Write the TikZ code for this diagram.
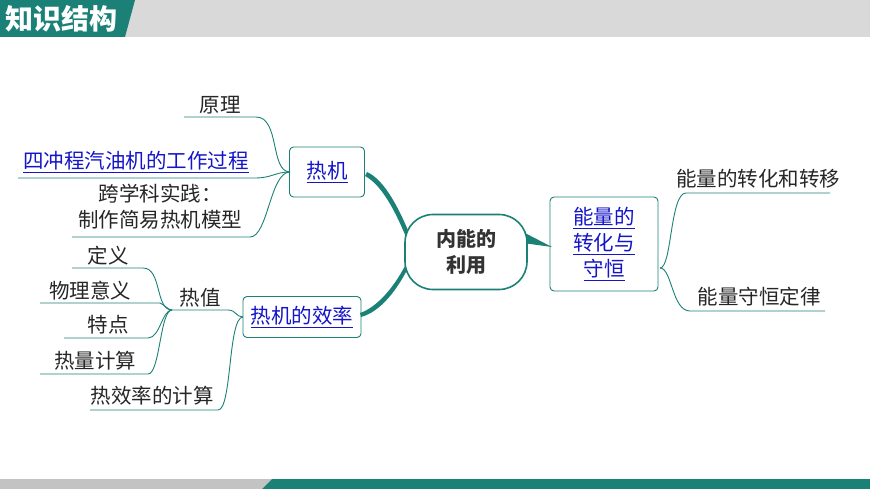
\documentclass[tikz,border=0pt]{standalone}
\usepackage{fontspec}
\setmainfont{Noto Sans CJK SC}
\usetikzlibrary{positioning}
\definecolor{teal1}{RGB}{27,128,118}
\definecolor{link}{RGB}{20,20,200}
\definecolor{gbar}{RGB}{217,217,217}
\begin{document}
\begin{tikzpicture}[x=1pt,y=-1pt,
  leaf/.style={font=\fontsize{20.5}{24}\selectfont, text=black!85, inner sep=1pt},
  ul/.style={teal1, line width=0.9pt},
  box/.style={draw=teal1, rounded corners=4pt, line width=0.9pt, fill=white},
  lk/.style={font=\fontsize{20.5}{24}\selectfont, text=link, align=center},
  fat/.style={teal1, line width=4pt, line cap=round}]
\useasboundingbox (0,0) rectangle (870,489);
% header
\fill[gbar] (128,0) -- (870,0) -- (870,37) -- (120,37) -- cycle;
\fill[teal1] (0,0) -- (135,0) -- (125,37) -- (0,37) -- cycle;
\node[font=\bfseries\fontsize{28}{30}\selectfont, text=white, anchor=west] (title) at (2,19) {知识结构};
% footer
\fill[gbar!90!black] (0,479) -- (272,479) -- (262,489) -- (0,489) -- cycle;
\fill[teal1] (272,479) -- (870,479) -- (870,489) -- (262,489) -- cycle;
% nodes
\node[box, minimum width=75, minimum height=50] (rj) at (327,172) {};
\node[lk] at (rj) {\underline{热机}};
\node[box, minimum width=118, minimum height=41] (xl) at (302,317) {};
\node[lk] at (xl) {\underline{热机的效率}};
\node[box, minimum width=108, minimum height=94] (nl) at (604,244) {};
\node[lk, font=\fontsize{20.5}{26}\selectfont] at (nl) {\underline{能量的}\\\underline{转化与}\\\underline{守恒}};
% center connectors
\fill[teal1] (367,172) .. controls (385,180) and (400,210) .. (412,240) -- (408,242) .. controls (396,212) and (382,185) .. (365,176) -- cycle;
\fill[teal1] (361,317) .. controls (380,312) and (398,290) .. (411,262) -- (408,260) .. controls (396,285) and (378,307) .. (360,313) -- cycle;
\fill[teal1] (523,232) -- (552,247) -- (523,243) -- cycle;
\node[draw=teal1, line width=1.6pt, rounded corners=28pt, minimum width=122, minimum height=75, fill=white, font=\bfseries\fontsize{20}{26}\selectfont, text=black!80, align=center] (c) at (466,252) {内能的\\利用};
% leaves of 热机
\node[leaf] (a1) at (220,105) {原理};
\draw[ul] (184,117) -- (256,117) .. controls (280,117) and (270,172) .. (290,172);
\node[lk, inner sep=1pt] (a2) at (136,162) {\underline{四冲程汽油机的工作过程}};
\draw[ul] (18,178) -- (255,178) .. controls (272,178) and (275,172) .. (290,172);
\node[leaf, align=center, font=\fontsize{20.5}{26}\selectfont] (a3) at (160,207) {跨学科实践：\\制作简易热机模型};
\draw[ul] (72,237) -- (250,237) .. controls (268,237) and (270,172) .. (290,172);
% 热值
\node[leaf] (h) at (200,298) {热值};
\draw[ul] (172,310) -- (228,310) .. controls (236,310) and (236,317) .. (243,317);
\node[leaf] (b1) at (108,256) {定义};
\draw[ul] (72,268) -- (143,268) .. controls (162,268) and (155,310) .. (172,310);
\node[leaf] (b2) at (90,291) {物理意义};
\draw[ul] (40,303) -- (160,303) .. controls (165,305) and (168,310) .. (172,310);
\node[leaf] (b3) at (108,325) {特点};
\draw[ul] (64,338) -- (148,338) .. controls (160,338) and (162,310) .. (172,310);
\node[leaf] (b4) at (95,361) {热量计算};
\draw[ul] (40,374) -- (148,374) .. controls (160,374) and (160,310) .. (172,310);
\node[leaf] (b5) at (152,396) {热效率的计算};
\draw[ul] (90,410) -- (218,410) .. controls (232,410) and (228,317) .. (243,317);
% right leaves
\node[leaf] (r1) at (758,179) {能量的转化和转移};
\draw[ul] (830,193) -- (686,193) .. controls (670,193) and (672,268) .. (660,268);
\node[leaf] (r2) at (759,297) {能量守恒定律};
\draw[ul] (825,311) -- (690,311) .. controls (672,311) and (672,268) .. (660,268);
\end{tikzpicture}
\end{document}
